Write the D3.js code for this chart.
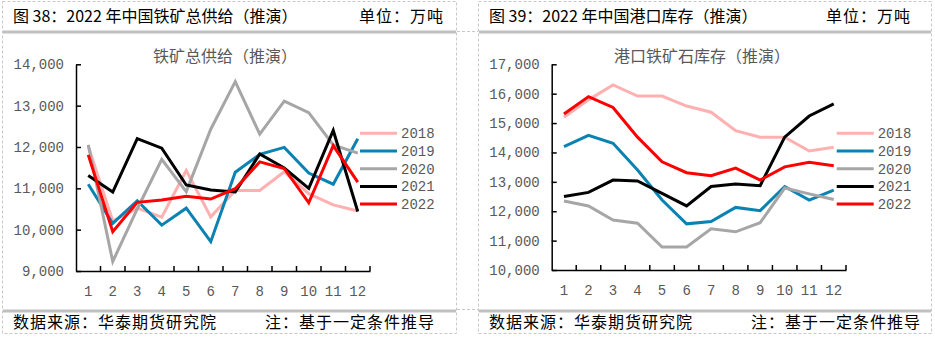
<!DOCTYPE html>
<html>
<head>
<meta charset="utf-8">
<script src="https://cdn.jsdelivr.net/npm/d3@7"></script>
<style>
  body { margin: 0; background: #fff; }
  svg { display: block; }
</style>
</head>
<body>
<svg id="chart" width="935" height="339"></svg>
<script>
// months on the category axis
const months = ["1", "2", "3", "4", "5", "6", "7", "8", "9", "10", "11", "12"];
const years = ["2018", "2019", "2020", "2021", "2022"];
const yearColors = ["#ffb0b0", "#0a82b2", "#a6a6a6", "#000000", "#ff0000"];

// 铁矿总供给, 万吨
const supply2018 = [12020, 10210, 10520, 10300, 11430, 10310, 10950, 10950, 11400, 10870, 10600, 10450];
const supply2019 = [11100, 10150, 10700, 10110, 10520, 9710, 11390, 11820, 11990, 11370, 11100, 12200];
const supply2020 = [12050, 9230, 10500, 11700, 10920, 12430, 13580, 12310, 13110, 12830, 12050, 11850];
const supply2021 = [11310, 10910, 12200, 11970, 11080, 10960, 10910, 11830, 11490, 11000, 12400, 10440];
const supply2022 = [11810, 9950, 10660, 10720, 10810, 10740, 10990, 11640, 11480, 10650, 12030, 11150];
const supplyTicks = [9000, 10000, 11000, 12000, 13000, 14000];

// 港口铁矿石库存, 万吨
const stock2018 = [15200, 15790, 16300, 15920, 15920, 15580, 15370, 14740, 14520, 14520, 14050, 14180];
const stock2019 = [14200, 14580, 14310, 13400, 12380, 11570, 11650, 12130, 12020, 12840, 12380, 12720];
const stock2020 = [12350, 12180, 11700, 11590, 10780, 10780, 11400, 11300, 11610, 12790, 12590, 12400];
const stock2021 = [12500, 12640, 13060, 13030, 12610, 12180, 12840, 12930, 12870, 14520, 15240, 15650];
const stock2022 = [15310, 15900, 15530, 14520, 13680, 13310, 13210, 13470, 13060, 13510, 13670, 13550];
const stockTicks = [10000, 11000, 12000, 13000, 14000, 15000, 16000, 17000];

const svg = d3.select("#chart");
const cjk = "'Noto Sans CJK SC', 'Noto Sans', sans-serif";
const num = "'Liberation Mono', 'DejaVu Sans Mono', monospace";
const textGray = "#595959";

function drawPanel(p) {
  const g = svg.append("g");

  // dashed cell border
  g.append("rect")
    .attr("x", p.left + 0.5).attr("y", 1.5)
    .attr("width", p.right - p.left).attr("height", 332)
    .attr("fill", "none").attr("stroke", "#c8c8c8")
    .attr("stroke-dasharray", "3,2");

  // header and footer rules
  g.append("rect").attr("x", p.left + 1).attr("y", 30.5)
    .attr("width", p.right - p.left - 1).attr("height", 3).attr("fill", "#c0c0c0");
  g.append("rect").attr("x", p.left + 1).attr("y", 309.5)
    .attr("width", p.right - p.left - 1).attr("height", 3).attr("fill", "#c0c0c0");

  g.append("text").attr("x", p.left + 11).attr("y", 22)
    .attr("font-family", cjk).attr("font-size", 16).attr("fill", "#000")
    .text(p.header);
  g.append("text").attr("x", p.unitEnd).attr("y", 22)
    .attr("text-anchor", "end").attr("letter-spacing", 1)
    .attr("font-family", cjk).attr("font-size", 16).attr("fill", "#000")
    .text("单位：万吨");

  g.append("text").attr("x", p.left + 11).attr("y", 328)
    .attr("font-family", cjk).attr("font-size", 16).attr("letter-spacing", 1).attr("fill", "#000")
    .text("数据来源：华泰期货研究院");
  g.append("text").attr("x", p.noteEnd).attr("y", 328)
    .attr("text-anchor", "end").attr("letter-spacing", 1)
    .attr("font-family", cjk).attr("font-size", 16).attr("fill", "#000")
    .text("注：基于一定条件推导");

  // chart title
  g.append("text").attr("x", p.titleX).attr("y", 62)
    .attr("text-anchor", "middle")
    .attr("font-family", cjk).attr("font-size", 16).attr("fill", textGray)
    .text(p.title);

  const x = d3.scaleBand().domain(months).range([p.x0, p.x1]);
  const y = d3.scaleLinear().domain(d3.extent(p.ticks)).range([p.y0, 64.3]);

  // y axis, ticks pointing inward
  const yAxis = g.append("g").attr("transform", `translate(${p.x0},0)`)
    .call(d3.axisLeft(y).tickValues(p.ticks).tickFormat(d3.format(","))
      .tickSizeInner(-5).tickSizeOuter(0).tickPadding(12));
  yAxis.select(".domain").attr("stroke-width", 1.5);
  yAxis.selectAll(".tick line").attr("stroke-width", 1.5);
  yAxis.selectAll("text").attr("font-family", num).attr("font-size", 14).attr("fill", textGray);

  // x axis, labels centred in bands, ticks on band edges
  const xAxis = g.append("g").attr("transform", `translate(0,${p.y0})`)
    .call(d3.axisBottom(x).tickSize(0).tickPadding(15));
  xAxis.select(".domain").attr("stroke-width", 1.5);
  xAxis.selectAll("text").attr("font-family", num).attr("font-size", 14).attr("fill", textGray);
  xAxis.selectAll(".edge")
    .data(months.slice(1).concat(["end"]))
    .enter().append("line")
    .attr("class", "edge")
    .attr("x1", d => d === "end" ? p.x1 : x(d))
    .attr("x2", d => d === "end" ? p.x1 : x(d))
    .attr("y1", 0).attr("y2", -5)
    .attr("stroke", "#000").attr("stroke-width", 1.5);

  const line = d3.line()
    .x((d, i) => x(months[i]) + x.bandwidth() / 2)
    .y(d => y(d));

  p.series.forEach((s, i) => {
    g.append("path").datum(s)
      .attr("d", line)
      .attr("fill", "none")
      .attr("stroke", yearColors[i])
      .attr("stroke-width", 3)
      .attr("stroke-linejoin", "miter");
  });

  // legend
  const lg = g.append("g");
  years.forEach((yr, i) => {
    const ly = 133.3 + i * 17.7;
    lg.append("line")
      .attr("x1", p.legendX).attr("x2", p.legendX + 37)
      .attr("y1", ly).attr("y2", ly)
      .attr("stroke", yearColors[i]).attr("stroke-width", 3);
    lg.append("text")
      .attr("x", p.legendX + 41).attr("y", ly).attr("dy", "0.35em")
      .attr("font-family", num).attr("font-size", 14).attr("fill", textGray)
      .text(yr);
  });
}

drawPanel({
  left: 2, right: 456, unitEnd: 444, noteEnd: 435,
  header: "图 38：2022 年中国铁矿总供给（推演）",
  title: "铁矿总供给（推演）", titleX: 225,
  x0: 76, x1: 370, y0: 271,
  ticks: supplyTicks,
  series: [supply2018, supply2019, supply2020, supply2021, supply2022],
  legendX: 360
});

drawPanel({
  left: 478, right: 931, unitEnd: 911, noteEnd: 921,
  header: "图 39：2022 年中国港口库存（推演）",
  title: "港口铁矿石库存（推演）", titleX: 702,
  x0: 551.7, x1: 846, y0: 270,
  ticks: stockTicks,
  series: [stock2018, stock2019, stock2020, stock2021, stock2022],
  legendX: 836.7
});

// connecting dashed rules between the two cells
svg.append("line").attr("x1", 457).attr("x2", 478).attr("y1", 31.5).attr("y2", 31.5)
  .attr("stroke", "#c8c8c8").attr("stroke-dasharray", "3,2");
svg.append("line").attr("x1", 457).attr("x2", 478).attr("y1", 309.5).attr("y2", 309.5)
  .attr("stroke", "#c8c8c8").attr("stroke-dasharray", "3,2");
</script>
</body>
</html>
